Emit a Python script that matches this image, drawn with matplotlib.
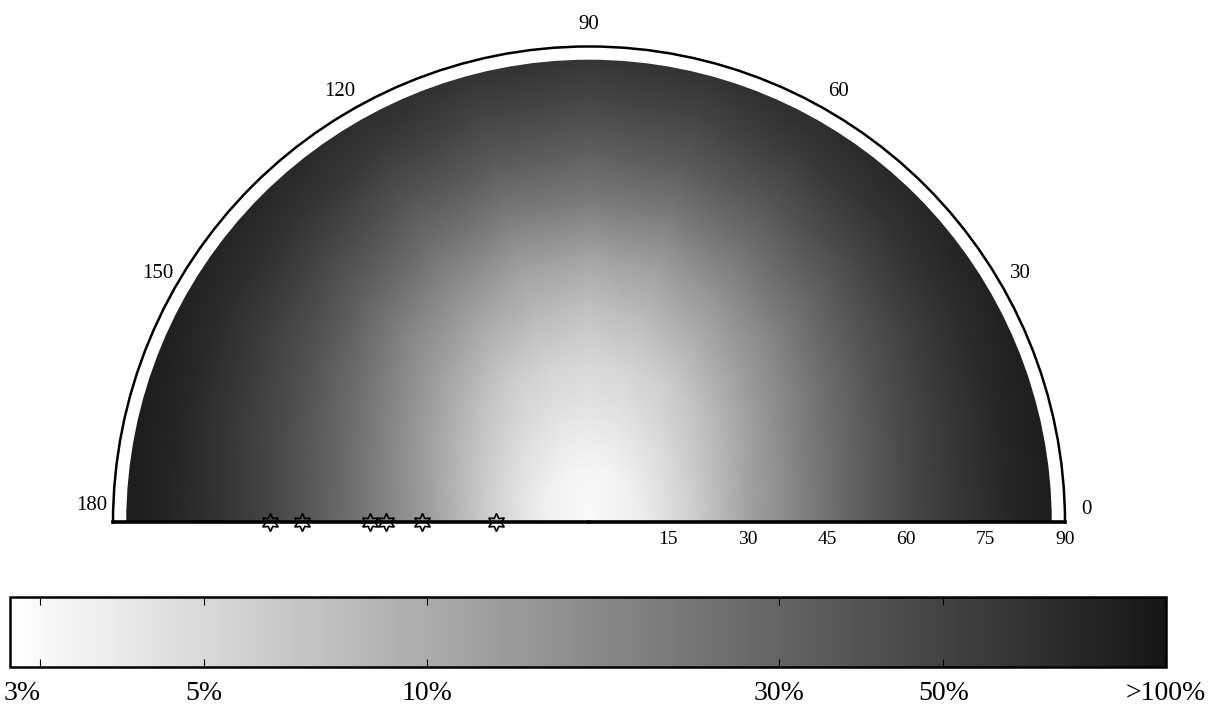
import numpy as np
import matplotlib
matplotlib.use("Agg")
import matplotlib.pyplot as plt
from matplotlib.colors import LogNorm, LinearSegmentedColormap

plt.rcParams["font.family"] = ["Liberation Serif", "DejaVu Serif"]

# ---------------------------------------------------------------------------
# Data
# ---------------------------------------------------------------------------
theta_deg = [0, 15, 30, 45, 60, 75, 90, 105, 120, 135, 150, 165, 180]
radius = [0, 10, 20, 30, 40, 50, 60, 70, 80, 95]   # last row = rim, clipped at 90

# percent values, one row per radius, one column per angle
pct_r0 = [3.0, 3.0, 3.0, 3.0, 3.0, 3.0, 3.0, 3.0, 3.0, 3.0, 3.0, 3.0, 3.0]
pct_r10 = [3.6, 3.6, 3.5, 3.4, 3.3, 3.2, 3.2, 3.2, 3.3, 3.4, 3.5, 3.6, 3.7]
pct_r20 = [6.0, 5.8, 5.4, 4.9, 4.5, 4.2, 4.0, 4.2, 4.5, 4.9, 5.5, 5.9, 6.2]
pct_r30 = [11.5, 10.8, 9.0, 7.4, 6.0, 5.3, 5.0, 5.3, 6.0, 7.5, 9.2, 11.0, 12.0]
pct_r40 = [19, 18, 15, 12, 9.5, 7.8, 7.0, 7.8, 9.5, 12, 15.5, 18.5, 20]
pct_r50 = [31, 29, 24, 19, 15, 12, 11, 12, 15, 19, 25, 30, 32]
pct_r60 = [45, 43, 37, 30, 25, 21, 20, 21, 25, 31, 38, 44, 47]
pct_r70 = [60, 58, 52, 45, 38, 34, 32, 34, 38, 46, 53, 59, 63]
pct_r80 = [78, 76, 70, 63, 56, 50, 48, 50, 56, 64, 71, 77, 80]
pct_r95 = [100, 100, 96, 90, 84, 80, 78, 80, 84, 90, 97, 100, 100]

# star markers sitting on the 180 degree axis
star_r = [60.4, 54.2, 41.5, 38.3, 31.5, 17.6]

theta_ticks = [0, 30, 60, 90, 120, 150, 180]
r_ticks = [15, 30, 45, 60, 75, 90]
cbar_ticks = [3, 5, 10, 30, 50, 100]
cbar_labels = ["3%", "5%", "10%", "30%", "50%", ">100%"]

# ---------------------------------------------------------------------------
# Figure
# ---------------------------------------------------------------------------
fig = plt.figure(figsize=(12.09, 7.05), dpi=100)
# square box: the half-disc fills its width and sits in its middle
ax = fig.add_axes([113 / 1209, -0.0787, 952 / 1209, 952 / 705],
                  projection="polar")
ax.set_thetamin(0)
ax.set_thetamax(180)

values = np.array([pct_r0, pct_r10, pct_r20, pct_r30, pct_r40,
                   pct_r50, pct_r60, pct_r70, pct_r80, pct_r95])
T, R = np.meshgrid(np.deg2rad(theta_deg), radius)

cmap = LinearSegmentedColormap.from_list("wb", ["#ffffff", "#161616"])
norm = LogNorm(vmin=2.73, vmax=100)
mesh = ax.pcolormesh(T, R, values, shading="gouraud", cmap=cmap, norm=norm,
                     zorder=1)

# white rim between the data and the outer circle
ax.bar(np.pi / 2, 2.5, width=np.pi, bottom=87.5, color="white",
       edgecolor="none", zorder=2)

ax.set_rlim(0, 90)
ax.set_rticks(r_ticks)
# 0 and 180 are written by hand below, a little above the base line
ax.set_thetagrids(theta_ticks,
                  ["" if t in (0, 180) else str(t) for t in theta_ticks])
ax.grid(False)
ax.tick_params(axis="x", labelsize=15, pad=9, length=0)
ax.tick_params(axis="y", labelsize=14, length=0, pad=6)

ax.spines["polar"].set_linewidth(1.8)
ax.spines["start"].set_linewidth(2.6)
ax.spines["end"].set_linewidth(2.6)
ax.spines["inner"].set_visible(False)

fig.text(92 / 1209, 1 - 505 / 705, "180", fontsize=15, ha="center", va="center")
fig.text(1086 / 1209, 1 - 510 / 705, "0", fontsize=15, ha="center", va="center")

ax.plot(np.full(len(star_r), np.pi), star_r, linestyle="none",
        marker=(6, 1, 0), markersize=13, markerfacecolor="none",
        markeredgecolor="black", markeredgewidth=1.2, clip_on=False, zorder=5)

# colour bar along the bottom
cax = fig.add_axes([0.0083, 0.0539, 0.956, 0.0993])
cb = fig.colorbar(mesh, cax=cax, orientation="horizontal")
cb.minorticks_off()
cb.set_ticks(cbar_ticks)
cb.set_ticklabels(cbar_labels)
cb.outline.set_linewidth(1.8)
cax.tick_params(axis="x", which="both", direction="in", top=True,
                bottom=True, length=6, labelsize=20, pad=10)
cax.get_xticklabels()[0].set_horizontalalignment("right")

fig.savefig("out.png", dpi=100)
plt.close(fig)
